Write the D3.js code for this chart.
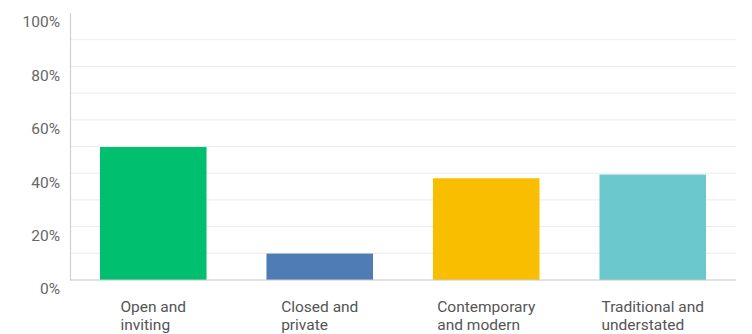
<!DOCTYPE html>
<html>
<head>
<meta charset="utf-8">
<script src="https://cdn.jsdelivr.net/npm/d3@7"></script>
<style>
  html, body { margin: 0; padding: 0; background: #fff; }
  svg { display: block; }
  text { font-family: Roboto, "Open Sans", sans-serif; }
</style>
</head>
<body>
<svg id="chart" width="752" height="334"></svg>
<script>
// Survey answers and the share of respondents choosing each one (%)
const categories = [
  ["Open and", "inviting"],
  ["Closed and", "private"],
  ["Contemporary", "and modern"],
  ["Traditional and", "understated"]
];
const values = [49.8, 9.9, 38.1, 39.5];
const colors = ["#00BF6F", "#507CB6", "#F9BE00", "#6BC8CD"];
const yTicks = [0, 20, 40, 60, 80, 100];
const gridTicks = [10, 20, 30, 40, 50, 60, 70, 80, 90];

const svg = d3.select("#chart");
const margin = { top: 13, right: 16, bottom: 54, left: 70 };
const width = 752 - margin.left - margin.right;
const height = 334 - margin.top - margin.bottom;

const g = svg.append("g").attr("transform", `translate(${margin.left},${margin.top})`);

const x = d3.scaleBand()
  .domain(d3.range(categories.length))
  .range([0, width])
  .paddingInner(0.36)
  .paddingOuter(0.18);

const y = d3.scaleLinear().domain([0, 100]).range([height, 0]);

// Light horizontal gridlines
g.append("g")
  .selectAll("line")
  .data(gridTicks)
  .join("line")
  .attr("x1", 0)
  .attr("x2", width)
  .attr("y1", d => y(d))
  .attr("y2", d => y(d))
  .attr("stroke", "#ececec")
  .attr("stroke-width", 1);

// Bars
g.append("g")
  .selectAll("rect")
  .data(values)
  .join("rect")
  .attr("x", (d, i) => x(i))
  .attr("width", x.bandwidth())
  .attr("y", d => y(d))
  .attr("height", d => y(0) - y(d))
  .attr("fill", (d, i) => colors[i]);

// Left axis: plain vertical rule with percentage labels
const yAxis = d3.axisLeft(y)
  .tickValues(yTicks)
  .tickSize(0)
  .tickPadding(10)
  .tickFormat(d => d + "%");

const ya = g.append("g").call(yAxis);
ya.select(".domain").attr("stroke", "#d0d0d0").attr("stroke-width", 1.2);
ya.selectAll(".tick text")
  .attr("fill", "#666")
  .attr("font-size", 15.5)
  .attr("dy", "0.9em")
  .style("font-family", "Roboto, 'Open Sans', sans-serif");

// Baseline
g.append("line")
  .attr("x1", 0)
  .attr("x2", width)
  .attr("y1", y(0))
  .attr("y2", y(0))
  .attr("stroke", "#c8c8c8")
  .attr("stroke-width", 1.2);

// Category labels: left-aligned lines, block centred under each bar
const labelGroups = g.append("g")
  .selectAll("g")
  .data(categories)
  .join("g");

labelGroups.each(function (lines, i) {
  const grp = d3.select(this);
  const texts = lines.map((line, k) =>
    grp.append("text")
      .attr("fill", "#555")
      .attr("font-size", 15.5)
      .attr("x", 0)
      .attr("y", height + 32 + k * 18.2)
      .text(line)
  );
  const w = d3.max(texts, t => t.node().getComputedTextLength());
  const x0 = x(i) + x.bandwidth() / 2 - w / 2;
  texts.forEach(t => t.attr("x", x0));
});
</script>
</body>
</html>
